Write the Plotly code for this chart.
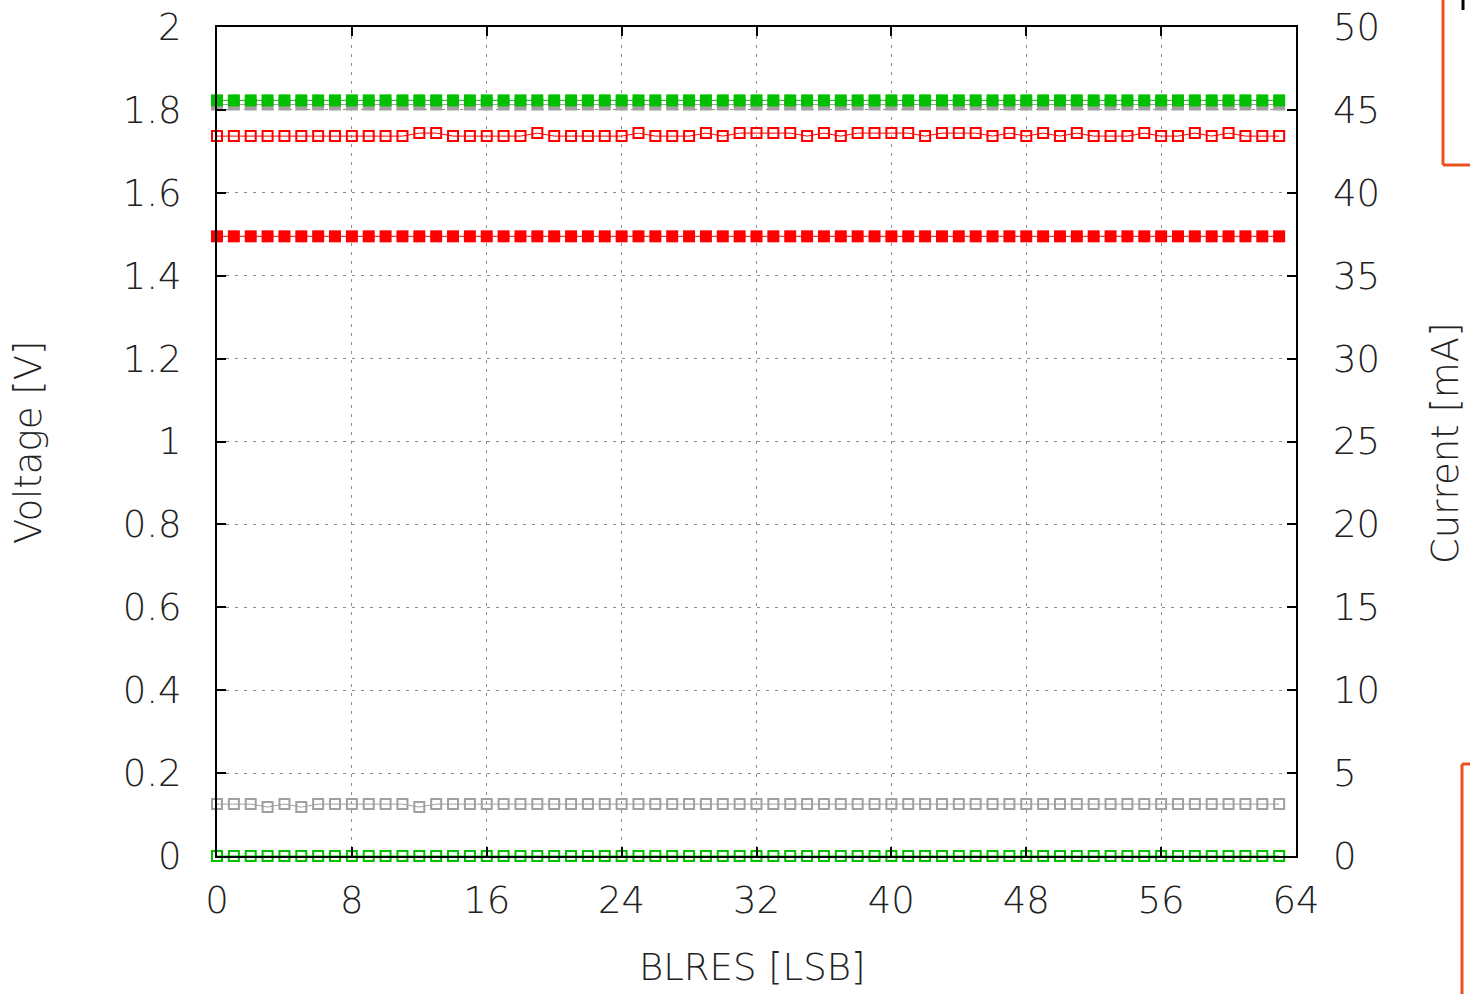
import plotly.graph_objects as go

# ---------------- data ----------------
blres = list(range(64))

# voltages [V] (left axis)
v_green = [1.823] * 64
v_gray = [1.813] * 64
v_red = [1.495] * 64

# currents [mA] (right axis)
red_high = {12, 13, 19, 25, 29, 31, 32, 33, 34, 36, 38, 39, 40, 41, 43, 44, 45, 47, 49, 51, 55, 58, 60}
i_red = [43.6 if i in red_high else 43.42 for i in blres]
gray_low = {3, 5, 12}
i_gray = [2.95 if i in gray_low else 3.13 for i in blres]
i_green = [0.0] * 64

x_ticks = [0, 8, 16, 24, 32, 40, 48, 56, 64]
y_ticks = [0, 0.2, 0.4, 0.6, 0.8, 1.0, 1.2, 1.4, 1.6, 1.8, 2.0]
y_ticktext = ["0", "0.2", "0.4", "0.6", "0.8", "1", "1.2", "1.4", "1.6", "1.8", "2"]
y2_ticks = [0, 5, 10, 15, 20, 25, 30, 35, 40, 45, 50]
y2_ticktext = [str(v) for v in y2_ticks]

GREEN = "#00c000"
RED = "#ff0000"
GRAY = "#a0a0a0"
FONT = "DejaVu Sans"
TXT = "#222222"
FS = 37
FW = 200

W, H = 1470, 994
L, R, T, B = 217, 1296, 27, 856


def px(x):
    return (x - L) / (R - L)


def py(y):
    return (B - y) / (B - T)


fig = go.Figure()


def filled(y, color, axis="y"):
    fig.add_trace(go.Scatter(
        x=blres, y=y, yaxis=axis, mode="lines+markers", cliponaxis=False,
        line=dict(color=color, width=1),
        marker=dict(symbol="square", size=12, color=color, line=dict(width=0)),
        showlegend=False, hoverinfo="skip"))


def opened(y, color, axis="y2"):
    fig.add_trace(go.Scatter(
        x=blres, y=y, yaxis=axis, mode="lines+markers", cliponaxis=False,
        line=dict(color=color, width=1),
        marker=dict(symbol="square-open", size=10, color=color, line=dict(width=2, color=color)),
        showlegend=False, hoverinfo="skip"))


filled(v_gray, GRAY)
filled(v_green, GREEN)
filled(v_red, RED)
opened(i_gray, GRAY)
opened(i_red, RED)
opened(i_green, GREEN)

GRID = dict(showgrid=True, gridcolor="#8c8c8c", gridwidth=1.3, griddash="3px,6px")
TF = dict(family=FONT, size=FS, color=TXT, weight=FW)

fig.update_layout(
    width=W, height=H,
    margin=dict(l=L, r=W - R, t=T, b=H - B, pad=0, autoexpand=False),
    paper_bgcolor="white", plot_bgcolor="white",
    font=TF,
    xaxis=dict(
        range=[0, 64], tickvals=x_ticks, ticktext=[str(v) for v in x_ticks],
        ticks="inside", ticklen=9, tickwidth=2, tickcolor="black", tickfont=TF,
        showline=True, linecolor="black", linewidth=2, mirror="ticks",
        zeroline=False, ticklabelstandoff=11, automargin=False, **GRID,
    ),
    yaxis=dict(
        range=[0, 2], tickvals=y_ticks, ticktext=y_ticktext,
        ticks="inside", ticklen=9, tickwidth=2, tickcolor="black", tickfont=TF,
        showline=True, linecolor="black", linewidth=2, mirror=True,
        zeroline=False, ticklabelstandoff=26, automargin=False, **GRID,
    ),
    yaxis2=dict(
        range=[0, 50], tickvals=y2_ticks, ticktext=y2_ticktext,
        overlaying="y", side="right", tickfont=TF,
        ticks="inside", ticklen=9, tickwidth=2, tickcolor="black",
        showline=False, showgrid=False, zeroline=False, ticklabelstandoff=36,
        automargin=False,
    ),
)

annos = [
    dict(text="Voltage [V]", x=px(28), y=py(443), textangle=-90),
    dict(text="Current [mA]", x=px(1445), y=py(443), textangle=-90),
    dict(text="BLRES [LSB]", x=px(752), y=py(967), textangle=0),
]
for a in annos:
    fig.add_annotation(xref="paper", yref="paper", showarrow=False,
                       xanchor="center", yanchor="middle", font=TF, **a)

ORANGE = "#e8501e"
shapes = [
    dict(x0=px(1443), x1=px(1443), y0=py(-2), y1=py(165), color=ORANGE, w=3),
    dict(x0=px(1443), x1=px(1472), y0=py(165), y1=py(165), color=ORANGE, w=3),
    dict(x0=px(1462), x1=px(1472), y0=py(764), y1=py(764), color=ORANGE, w=3),
    dict(x0=px(1462), x1=px(1462), y0=py(764), y1=py(996), color=ORANGE, w=3),
    dict(x0=px(1463), x1=px(1463), y0=py(-2), y1=py(10), color="black", w=3),
]
for s in shapes:
    fig.add_shape(type="line", xref="paper", yref="paper",
                  x0=s["x0"], x1=s["x1"], y0=s["y0"], y1=s["y1"],
                  line=dict(color=s["color"], width=s["w"]), layer="above")

fig.write_html("out.html")
